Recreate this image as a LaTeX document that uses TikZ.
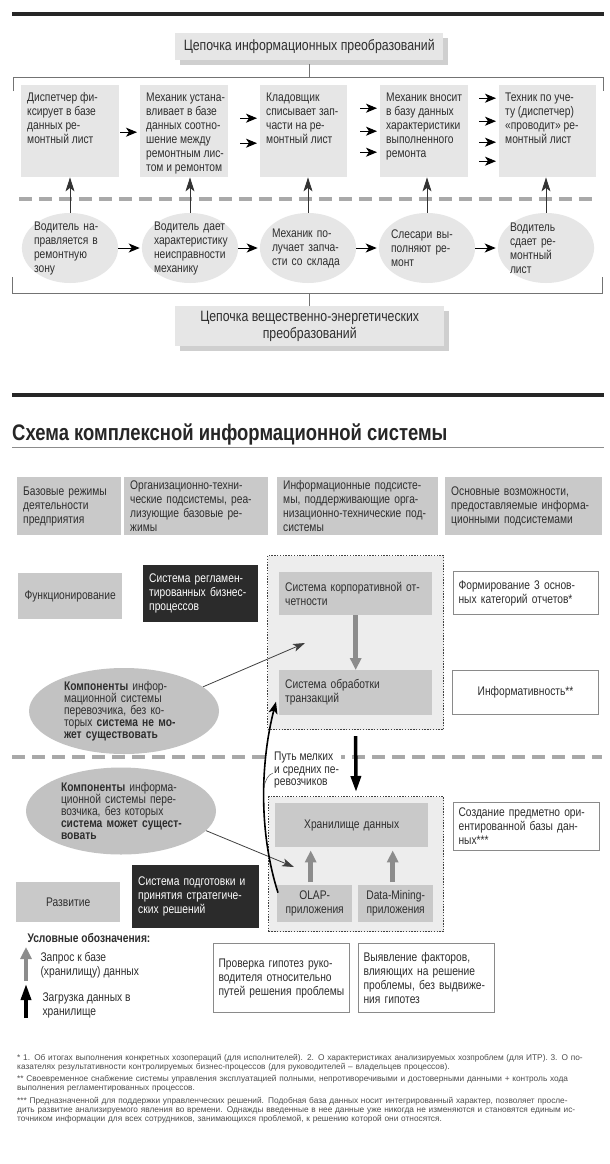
\documentclass[tikz,border=0pt]{standalone}
\usepackage{fontspec}
\setmainfont{Liberation Sans}[FakeStretch=0.82]
\newfontfamily\notefont{Liberation Sans}
\usetikzlibrary{arrows.meta,calc,positioning,shapes.geometric,shadows}
\definecolor{Ink}{HTML}{2E2E2E}
\definecolor{Rule}{HTML}{262626}
\definecolor{PaleGray}{HTML}{E6E6E6}
\definecolor{ShadowGray}{HTML}{CFCFCF}
\definecolor{MidGray}{HTML}{C9C9C9}
\definecolor{OvalGray}{HTML}{C2C2C2}
\definecolor{PanelGray}{HTML}{EDEDED}
\definecolor{DashGray}{HTML}{A9A9A9}
\definecolor{ArrowGray}{HTML}{8C8C8C}
\definecolor{NightBox}{HTML}{2B2B2B}
\definecolor{FrameGray}{HTML}{8A8A8A}
\newcommand\fillline[1]{\makebox[578pt][s]{#1}}
\tikzset{every node/.style={text=Ink,font=\fontsize{12.5}{14}\selectfont},chainbox/.style={fill=PaleGray,inner xsep=6pt,inner ysep=6pt,anchor=north west},headline/.style={fill=PaleGray,drop shadow={shadow xshift=5pt,shadow yshift=-5pt,fill=ShadowGray,opacity=1},font=\fontsize{15}{17}\selectfont,align=center,inner sep=0pt,anchor=north west},oval/.style={ellipse,fill=PaleGray,text width=72pt,align=left,inner xsep=-2pt,inner ysep=-2pt,minimum width=96pt,minimum height=70pt},bigoval/.style={ellipse,fill=OvalGray,text width=120pt,align=left,inner sep=0pt,minimum width=190pt,minimum height=86pt,font=\fontsize{12.5}{12}\selectfont},chainarrow/.style={-{Stealth[length=11pt,width=9pt,inset=3pt]},line width=1pt,draw=black},uparrow/.style={-{Stealth[length=14pt,width=9pt,inset=3.5pt]},line width=.9pt,draw=black!80},bracket/.style={line width=1pt,draw=black!55},dashrule/.style={line width=4pt,draw=DashGray,dash pattern=on 13pt off 7pt},headbox/.style={fill=MidGray,anchor=north west,align=left,inner xsep=6pt,inner ysep=0pt,minimum height=58pt},graybox/.style={fill=MidGray,anchor=north west,inner xsep=6pt,inner ysep=0pt},nightbox/.style={fill=NightBox,text=white,anchor=north west,align=left,inner xsep=6pt,inner ysep=0pt},framebox/.style={draw=FrameGray,line width=1.1pt,fill=white,anchor=north west,align=left,inner xsep=5pt,inner ysep=0pt},panel/.style={draw=black!75,dash pattern=on 1.4pt off 1.4pt,line width=1.1pt,fill=PanelGray,anchor=north west,inner sep=0pt},thinarrow/.style={-{Stealth[length=12pt,width=8pt,inset=3pt]},line width=.8pt,draw=black!75},queryarrow/.style={-{Triangle[length=12pt,width=11pt]},line width=4.5pt,draw=ArrowGray},loadarrow/.style={-{Triangle[length=16pt,width=10pt]},line width=3.5pt,draw=black},wayarrow/.style={-{Stealth[length=12pt,width=9pt,inset=3pt]},line width=1.6pt,draw=black}}
\begin{document}
\begin{tikzpicture}[x=1pt,y=-1pt]
\fill[white](0,0)rectangle(610,1164);
\useasboundingbox(0,0)rectangle(610,1164);
% information chain
\draw[line width=4pt,Rule](12,14)--(604,14);
\node[headline,minimum width=268pt,minimum height=27pt](infotitle)at(175,33){Цепочка информационных преобразований};
\draw[bracket]([yshift=-4pt]infotitle.south)--++(0,13);
\draw[bracket](13,91)--(13,77)--(603,77)--(603,91);
\foreach \n/\x/\w/\txt in {b1/21/86/{Диспетчер фи-\\ксирует в базе\\данных ре-\\монтный лист},b2/140/76/{Механик устана-\\вливает в базе\\данных соотно-\\шение между\\ремонтным лис-\\том и ремонтом},b3/260/75/{Кладовщик\\списывает зап-\\части на ре-\\монтный лист},b4/380/76/{Механик вносит\\в базу данных\\характеристики\\выполненного\\ремонта},b5/499/85/{Техник по уче-\\ту (диспетчер)\\«проводит» ре-\\монтный лист}}\node[chainbox](\n)at(\x,85){\parbox[c][80pt][t]{\w pt}{\begin{tabular}[t]{@{}l@{}}\txt\end{tabular}}};
\foreach \a/\b/\ys in {b1/b2/{-1},b2/b3/{13,-12},b3/b4/{23,0,-21},b4/b5/{33,10,-11,-30}}\foreach \y in \ys\draw[chainarrow]([xshift=-20pt,yshift=\y pt]\b.west)--([xshift=-3pt,yshift=\y pt]\b.west);
% material chain
\draw[dashrule](19,199)--(596,199);
\foreach \n/\x/\txt in {c1/70/{Водитель на-\\правляется в\\ремонтную\\зону},c2/190/{Водитель дает\\характеристику\\неисправности\\механику},c3/308/{Механик по-\\лучает запча-\\сти со склада},c4/427/{Слесари вы-\\полняют ре-\\монт},c5/546/{Водитель\\сдает ре-\\монтный\\лист}}\node[oval](\n)at(\x,248){\txt};
\foreach \a/\b in {c1/c2,c2/c3,c3/c4,c4/c5}\draw[chainarrow,shorten >=2pt](\a)--(\b);
\foreach \i in {1,...,5}\draw[uparrow](c\i.north)--(c\i.north|-b\i.south);
\draw[bracket](12,277)--(12,293)--(602,293)--(602,277);
\node[headline,minimum width=269pt,minimum height=40pt](mattertitle)at(175,306){Цепочка вещественно-энергетических\\преобразований};
\draw[bracket](mattertitle.north)--++(0,-13);
% information system scheme
\draw[line width=4pt,Rule](12,395)--(604,395);
\node[anchor=base west,inner sep=0pt,text=Rule,font=\bfseries\fontsize{22.5}{26}\selectfont](schemetitle)at(12,440){Схема комплексной информационной системы};
\draw[line width=1pt,black!45](12,447)--(604,447);
\node[headbox,text width=92pt](modes)at(17,477){Базовые режимы\\деятельности\\предприятия};
\node[headbox,text width=132pt](orgsub)at(124,477){Организационно-техни-\\ческие подсистемы, реа-\\лизующие базовые ре-\\жимы};
\node[headbox,text width=149pt](infosub)at(277,477){Информационные подсисте-\\мы, поддерживающие орга-\\низационно-технические под-\\системы};
\node[headbox,text width=145pt](abilities)at(445,477){Основные возможности,\\предоставляемые информа-\\ционными подсистемами};
\node[panel,minimum width=176pt,minimum height=174pt](opspanel)at(267,555){};
\node[graybox,text width=92pt,align=center,minimum height=46pt](working)at(18,573){Функционирование};
\node[nightbox,text width=103pt,minimum height=57pt](reglament)at(143,565){Система регламен-\\тированных бизнес-\\процессов};
\node[graybox,text width=141pt,align=left,minimum height=43pt](corp)at(279,572){Система корпоративной от-\\четности};
\node[graybox,text width=141pt,align=left,minimum height=45pt](trans)at(279,670){Система обработки\\транзакций};
\draw[queryarrow](corp.south)--(trans.north);
\node[framebox,text width=135pt,minimum height=43pt](reports)at(453,571){Формирование 3 основ-\\ных категорий отчетов*};
\node[framebox,text width=136pt,align=center,minimum height=44pt](informative)at(452,670){Информативность**};
\node[bigoval](musthave)at(124,711){\mbox{{\bfseries Компоненты} инфор-}\\мационной системы\\перевозчика, без ко-\\\mbox{торых {\bfseries система не мо-}}\\\mbox{\bfseries жет существовать}};
\coordinate(opsin)at(305,643);
\draw[thinarrow](musthave.17)--(opsin);
\draw[dashrule](12,757)--(602,757);
\node[panel,minimum width=175pt,minimum height=135pt](devpanel)at(268,796){};
\draw[loadarrow,shorten <=6pt,shorten >=4pt](opspanel.south)--(devpanel.north);
\node[graybox,text width=141pt,align=center,minimum height=44pt](store)at(275,803){Хранилище данных};
\node[graybox,text width=63pt,align=center,minimum height=37pt](olap)at(277,885){OLAP-\\приложения};
\node[graybox,text width=63pt,align=center,minimum height=37pt](mining)at(358,885){Data-Mining-\\приложения};
\draw[queryarrow,shorten <=3pt,shorten >=3pt]([xshift=-4pt]olap.north)--([xshift=-4pt]olap.north|-store.south);
\draw[queryarrow,shorten <=3pt,shorten >=3pt]([xshift=-3pt]mining.north)--([xshift=-3pt]mining.north|-store.south);
\node[framebox,text width=136pt,minimum height=48pt](subjectbase)at(453,802){Создание предметно ори-\\ентированной базы дан-\\ных***};
\node[bigoval,minimum height=87pt](canhave)at(121,811){\mbox{{\bfseries Компоненты} информа-}\\\mbox{ционной системы пере-}\\возчика, без которых\\\mbox{\bfseries система может сущест-}\\{\bfseries вовать}};
\coordinate(olapin)at(294,867);
\draw[thinarrow](canhave.-13)--(olapin);
\node[graybox,text width=92pt,align=center,minimum height=40pt](growth)at(16,882){Развитие};
\node[nightbox,text width=115pt,minimum height=63pt](strategy)at(132,865){Система подготовки и\\принятия стратегиче-\\ских решений};
\node[anchor=north west,align=left,fill=white,inner xsep=2pt,inner ysep=1pt,font=\fontsize{12.5}{12.5}\selectfont](smallway)at(272,751){Путь мелких\\и средних пе-\\ревозчиков};
\draw[wayarrow]([xshift=1pt,yshift=11pt]olap.west)..controls(258,830)and(261,760)..([xshift=-3pt,yshift=-9pt]trans.west)coordinate[pos=.55](waypt);
\draw[line width=.5pt,black!70]([xshift=1pt,yshift=-22pt]smallway.north west)to[out=200,in=70](waypt);
% legend
\node[anchor=west,font=\bfseries\fontsize{12.5}{14}\selectfont](legend)at(24,938){Условные обозначения:};
\draw[queryarrow](26,981)--(26,947);
\node[anchor=north west,align=left](querytext)at(37,949){Запрос к базе\\(хранилищу) данных};
\draw[loadarrow](26,1018)--(26,984);
\node[anchor=north west,align=left](loadtext)at(39,989){Загрузка данных в\\хранилище};
\node[framebox,text width=126pt,minimum height=69pt](hypcheck)at(213,943){Проверка гипотез руко-\\водителя относительно\\путей решения проблемы};
\node[framebox,text width=126pt,minimum height=69pt](factors)at(358,943){Выявление факторов,\\влияющих на решение\\проблемы, без выдвиже-\\ния гипотез};
% footnotes
\node[anchor=north west,inner sep=0pt,text width=578pt,align=left,text=Ink!85,font=\notefont\fontsize{8.3}{9}\selectfont](notes)at(17,1054){\fillline{* 1. Об итогах выполнения конкретных хозопераций (для исполнителей). 2. О характеристиках анализируемых хозпроблем (для ИТР). 3. О по-}\\казателях результативности контролируемых бизнес-процессов (для руководителей – владельцев процессов).\\[3.5pt]\fillline{** Своевременное снабжение системы управления эксплуатацией полными, непротиворечивыми и достоверными данными + контроль хода}\\выполнения регламентированных процессов.\\[3.5pt]\fillline{*** Предназначенной для поддержки управленческих решений. Подобная база данных носит интегрированный характер, позволяет просле-}\\\fillline{дить развитие анализируемого явления во времени. Однажды введенные в нее данные уже никогда не изменяются и становятся единым ис-}\\точником информации для всех сотрудников, занимающихся проблемой, к решению которой они относятся.};
\end{tikzpicture}
\end{document}
